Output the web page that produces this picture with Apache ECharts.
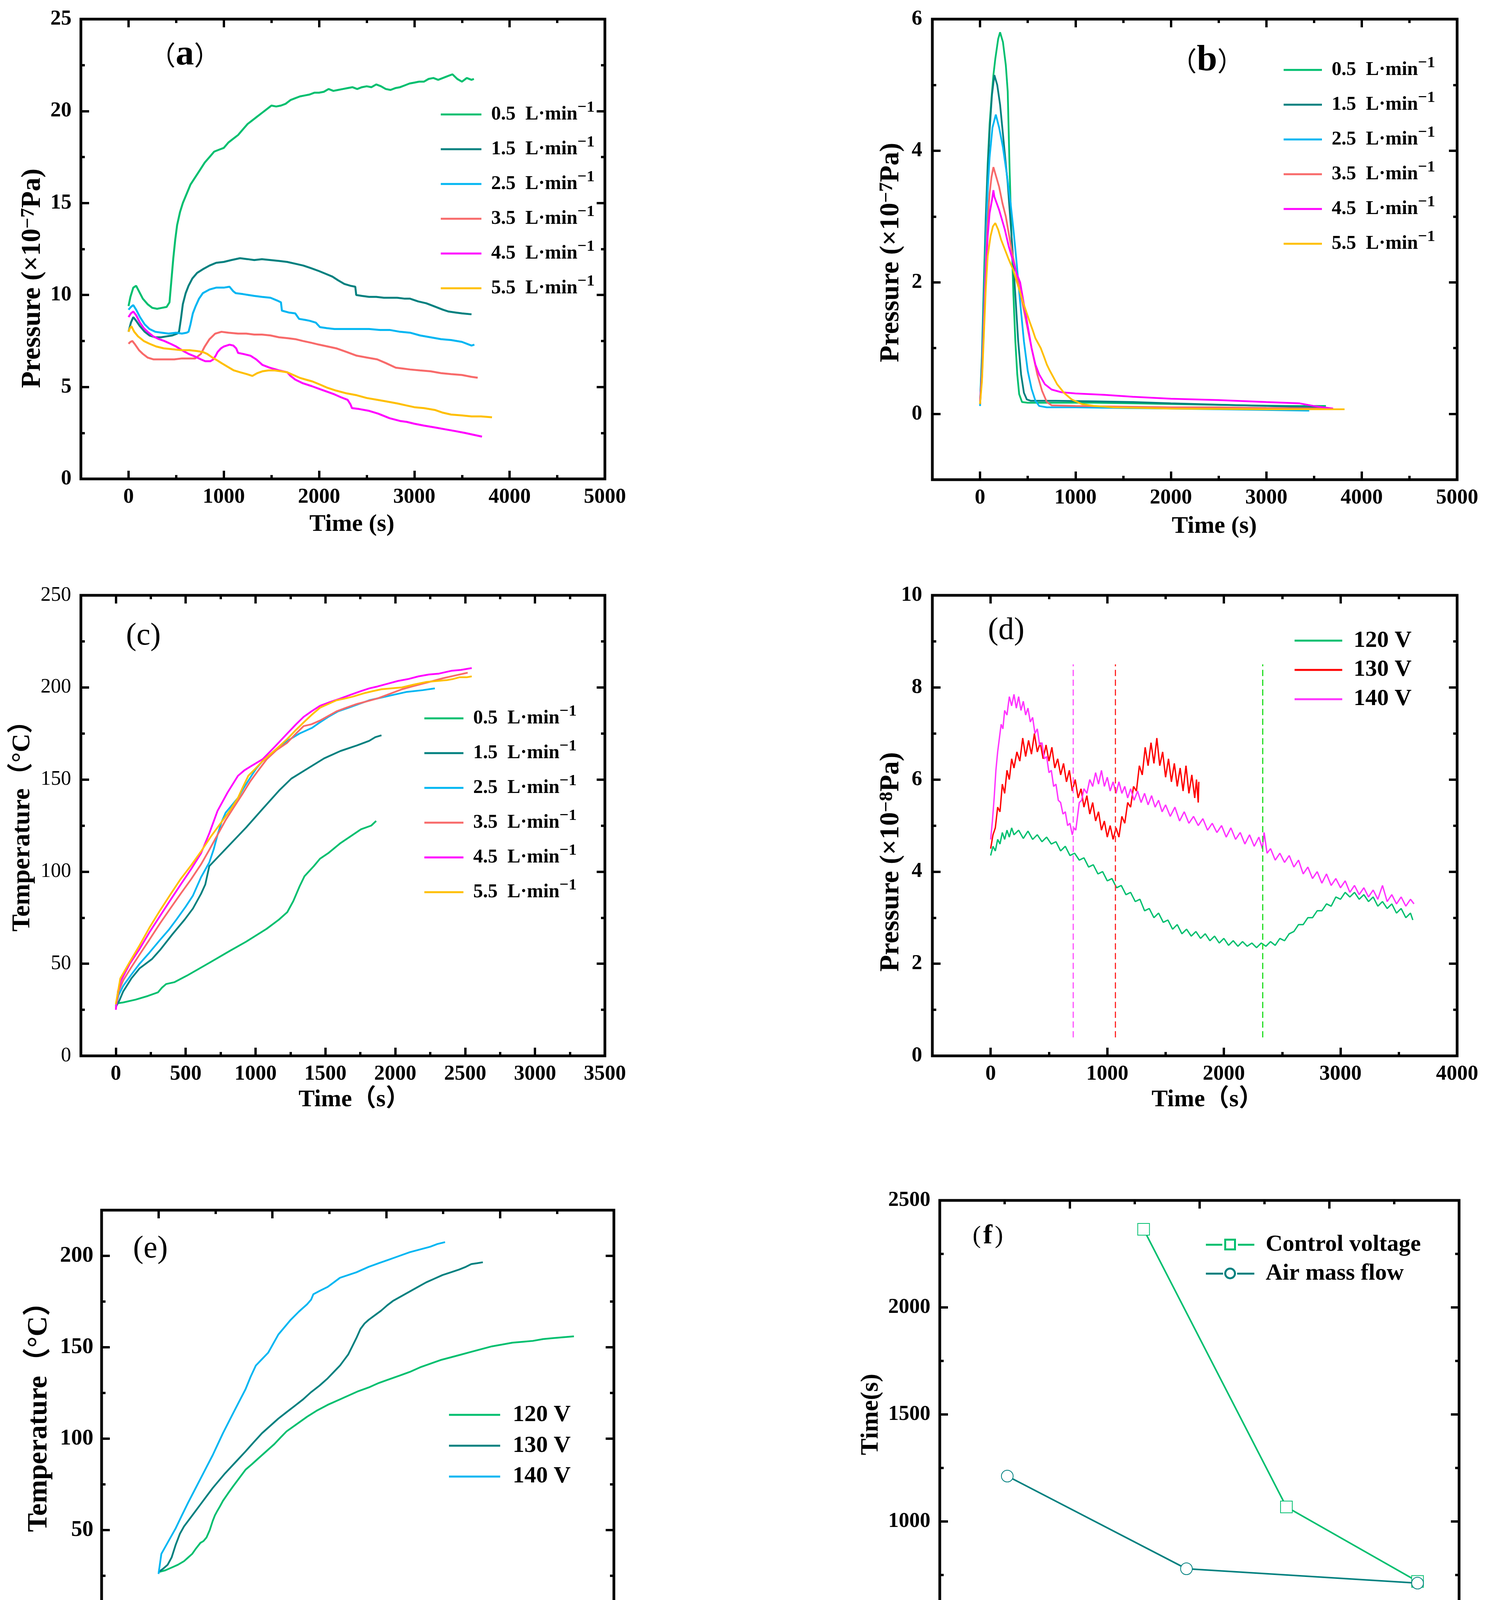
<!DOCTYPE html>
<html><head><meta charset="utf-8">
<script src="https://cdn.jsdelivr.net/npm/echarts@6/dist/echarts.min.js"></script>
<style>html,body{margin:0;padding:0;background:#fff}#c{width:3808px;height:4328px}</style>
</head><body><div id="c"></div>
<script>
// ---------------- DATA ----------------
const flowLabels = ['0.5','1.5','2.5','3.5','4.5','5.5'];
const voltLabels = ['120 V','130 V','140 V'];

// (a) pressure vs time, x1e-7 Pa
const a05 = [[0,9.4],[20,9.9],[50,10.4],[80,10.5],[110,10.2],[150,9.8],[200,9.5],[250,9.3],[300,9.25],[350,9.3],[400,9.35],[430,9.6],[450,10.8],[470,12.0],[490,13.0],[510,13.8],[540,14.5],[570,15.0],[610,15.5],[650,16.0],[700,16.4],[750,16.8],[800,17.2],[850,17.5],[900,17.8],[950,17.9],[1000,18.0],[1050,18.3],[1100,18.5],[1150,18.7],[1200,19.0],[1250,19.3],[1300,19.5],[1350,19.7],[1400,19.9],[1450,20.1],[1500,20.3],[1550,20.25],[1600,20.3],[1650,20.4],[1700,20.6],[1750,20.7],[1800,20.8],[1850,20.85],[1900,20.9],[1950,21.0],[2000,21.0],[2050,21.05],[2100,21.2],[2150,21.1],[2200,21.15],[2250,21.2],[2300,21.25],[2350,21.3],[2400,21.2],[2450,21.3],[2500,21.35],[2550,21.3],[2600,21.45],[2650,21.35],[2700,21.2],[2750,21.15],[2800,21.25],[2850,21.3],[2900,21.4],[2950,21.5],[3000,21.55],[3050,21.6],[3100,21.6],[3150,21.75],[3200,21.8],[3250,21.7],[3300,21.8],[3350,21.9],[3400,22.0],[3450,21.75],[3500,21.6],[3550,21.8],[3600,21.7],[3625,21.75]];
const a15 = [[0,8.0],[25,8.5],[50,8.8],[80,8.6],[120,8.3],[170,8.0],[220,7.8],[280,7.7],[340,7.7],[400,7.75],[460,7.8],[510,7.9],[530,8.0],[550,8.7],[570,9.5],[600,10.1],[630,10.5],[670,10.9],[720,11.2],[780,11.4],[850,11.6],[920,11.75],[1000,11.8],[1080,11.9],[1170,12.0],[1250,11.95],[1320,11.9],[1400,11.95],[1490,11.9],[1580,11.85],[1665,11.8],[1750,11.7],[1835,11.6],[1920,11.45],[2000,11.3],[2070,11.15],[2140,11.0],[2200,10.8],[2265,10.6],[2330,10.5],[2380,10.45],[2390,10.0],[2450,9.95],[2525,9.9],[2600,9.9],[2680,9.85],[2740,9.85],[2820,9.85],[2900,9.8],[2955,9.8],[3040,9.65],[3125,9.55],[3200,9.4],[3300,9.2],[3360,9.1],[3430,9.05],[3500,9.0],[3600,8.95]];
const a25 = [[0,9.2],[25,9.35],[50,9.45],[80,9.2],[120,8.8],[170,8.4],[220,8.15],[280,8.0],[350,7.95],[420,7.9],[500,7.95],[560,7.9],[610,7.95],[630,8.0],[650,8.4],[675,9.0],[705,9.4],[740,9.8],[780,10.1],[850,10.3],[920,10.4],[1000,10.4],[1060,10.45],[1100,10.2],[1125,10.1],[1200,10.05],[1260,10.0],[1320,9.95],[1400,9.9],[1490,9.85],[1560,9.7],[1600,9.6],[1610,9.15],[1680,9.05],[1750,9.0],[1790,8.7],[1850,8.65],[1900,8.6],[1965,8.5],[2010,8.25],[2080,8.2],[2160,8.15],[2240,8.15],[2310,8.15],[2400,8.15],[2525,8.15],[2640,8.1],[2740,8.1],[2850,8.0],[2955,7.95],[3060,7.8],[3170,7.7],[3280,7.6],[3385,7.55],[3500,7.45],[3600,7.25],[3630,7.3]];
const a35 = [[0,7.35],[20,7.45],[40,7.5],[70,7.3],[110,7.0],[150,6.8],[200,6.6],[260,6.5],[330,6.5],[400,6.5],[480,6.5],[560,6.55],[640,6.55],[700,6.55],[760,6.8],[800,7.2],[850,7.6],[910,7.9],[975,8.0],[1050,7.95],[1150,7.9],[1235,7.9],[1320,7.85],[1400,7.85],[1490,7.8],[1580,7.7],[1670,7.65],[1750,7.6],[1830,7.5],[1920,7.4],[2000,7.3],[2090,7.2],[2180,7.1],[2290,6.9],[2395,6.7],[2500,6.6],[2610,6.5],[2700,6.3],[2805,6.05],[2880,6.0],[2955,5.95],[3060,5.9],[3170,5.85],[3280,5.75],[3385,5.7],[3500,5.65],[3600,5.55],[3665,5.5]];
const a45 = [[0,8.8],[25,9.0],[50,9.1],[80,8.9],[120,8.5],[160,8.2],[200,8.0],[260,7.75],[320,7.6],[375,7.5],[440,7.35],[500,7.2],[560,7.0],[630,6.8],[700,6.65],[760,6.5],[805,6.4],[860,6.4],[890,6.5],[915,6.7],[935,6.9],[970,7.1],[1000,7.2],[1060,7.3],[1100,7.25],[1130,7.1],[1150,6.85],[1200,6.8],[1280,6.7],[1340,6.5],[1405,6.2],[1480,6.05],[1580,5.9],[1665,5.8],[1700,5.6],[1750,5.4],[1830,5.2],[1920,5.05],[2000,4.9],[2080,4.75],[2160,4.6],[2225,4.45],[2300,4.3],[2330,4.05],[2345,3.85],[2420,3.8],[2525,3.7],[2620,3.55],[2740,3.3],[2850,3.15],[2920,3.1],[3000,3.0],[3100,2.9],[3215,2.8],[3320,2.7],[3430,2.6],[3530,2.5],[3620,2.4],[3710,2.3]];
const a55 = [[0,8.0],[15,8.2],[30,8.3],[60,8.0],[100,7.75],[160,7.5],[220,7.35],[290,7.2],[370,7.1],[460,7.05],[560,7.0],[640,7.0],[720,6.95],[780,6.9],[825,6.8],[880,6.6],[930,6.45],[975,6.3],[1040,6.1],[1105,5.9],[1170,5.8],[1240,5.7],[1300,5.6],[1350,5.75],[1405,5.85],[1470,5.9],[1535,5.9],[1600,5.85],[1665,5.8],[1730,5.65],[1795,5.5],[1860,5.4],[1930,5.3],[2000,5.15],[2090,4.95],[2180,4.8],[2290,4.65],[2395,4.55],[2500,4.4],[2610,4.3],[2720,4.2],[2825,4.1],[2910,4.0],[3000,3.9],[3100,3.85],[3215,3.75],[3300,3.6],[3385,3.5],[3500,3.45],[3600,3.4],[3700,3.4],[3815,3.35]];

// (b) pressure vs time, x1e-7 Pa
const b05 = [[0,0.15],[20,0.9],[40,2.0],[60,3.0],[80,3.8],[100,4.4],[120,4.8],[140,5.15],[160,5.4],[190,5.7],[210,5.8],[240,5.65],[270,5.3],[290,4.9],[310,3.7],[330,2.7],[350,1.8],[370,1.1],[390,0.6],[410,0.3],[440,0.18],[500,0.17],[800,0.17],[1200,0.17],[1600,0.16],[2000,0.15],[2400,0.14],[2800,0.13],[3200,0.12],[3625,0.12]];
const b15 = [[0,0.15],[20,0.8],[40,1.8],[60,2.9],[80,3.7],[100,4.3],[125,4.85],[150,5.15],[180,5.0],[210,4.7],[250,4.1],[290,3.5],[315,3.0],[340,2.5],[370,1.8],[400,1.1],[430,0.6],[460,0.32],[490,0.22],[530,0.2],[800,0.2],[1200,0.19],[1600,0.18],[2000,0.16],[2500,0.14],[3000,0.12],[3600,0.1]];
const b25 = [[0,0.12],[20,0.7],[40,1.6],[60,2.6],[80,3.4],[100,3.9],[130,4.35],[165,4.55],[200,4.35],[240,4.05],[280,3.65],[320,3.2],[350,2.8],[380,2.35],[420,1.7],[460,1.1],[500,0.65],[540,0.38],[580,0.2],[620,0.12],[700,0.1],[1000,0.1],[1500,0.09],[2000,0.08],[2500,0.07],[3000,0.06],[3450,0.05]];
const b35 = [[0,0.15],[20,0.6],[40,1.4],[60,2.3],[80,2.9],[100,3.35],[120,3.6],[140,3.75],[170,3.6],[200,3.45],[235,3.2],[270,3.0],[300,2.75],[330,2.5],[365,2.25],[400,2.0],[435,1.75],[470,1.5],[505,1.25],[540,1.0],[570,0.8],[600,0.6],[650,0.35],[700,0.18],[750,0.13],[1000,0.12],[1500,0.11],[2000,0.1],[2500,0.1],[3000,0.09],[3700,0.08]];
const b45 = [[0,0.2],[20,0.55],[40,1.3],[60,2.1],[80,2.7],[100,3.05],[125,3.25],[140,3.4],[150,3.3],[175,3.2],[200,3.1],[230,2.95],[260,2.8],[300,2.55],[340,2.35],[380,2.15],[420,2.0],[450,1.75],[480,1.5],[510,1.25],[540,1.0],[580,0.75],[620,0.6],[680,0.45],[750,0.37],[850,0.33],[1000,0.31],[1300,0.29],[1600,0.26],[2000,0.23],[2500,0.21],[3000,0.18],[3350,0.16],[3500,0.12],[3700,0.08]];
const b55 = [[0,0.15],[20,0.5],[40,1.2],[60,1.9],[80,2.4],[110,2.7],[135,2.85],[160,2.9],[190,2.8],[220,2.65],[260,2.5],[300,2.35],[345,2.2],[387,2.0],[420,1.85],[450,1.7],[485,1.55],[520,1.4],[550,1.28],[580,1.15],[610,1.07],[636,1.0],[670,0.87],[700,0.75],[730,0.66],[760,0.58],[808,0.45],[880,0.32],[960,0.22],[1066,0.15],[1200,0.12],[1400,0.1],[2000,0.08],[3000,0.07],[3820,0.07]];

// (c) temperature vs time, degC
const c05 = [[0,28.4],[53,29],[141,30.5],[229,32.5],[302,34.5],[330,37],[360,39],[420,40],[508,43.5],[669,50.5],[816,57],[933,62],[1080,69],[1168,74],[1227,78],[1270,84],[1315,92],[1350,97.5],[1417,103],[1461,107],[1520,110],[1608,115.5],[1696,120],[1755,123],[1828,125],[1863,127.5]];
const c15 = [[0,26.5],[25,30],[53,35],[111,42],[170,47.5],[258,52.5],[317,57.5],[405,66],[493,74],[552,80],[610,88],[640,93],[669,103],[757,110],[845,117],[933,124],[1050,134],[1168,144],[1256,150.5],[1373,156],[1491,161.5],[1608,165.5],[1725,168.5],[1813,171],[1857,173],[1901,174]];
const c25 = [[0,27],[20,33],[53,38],[110,44],[170,50],[240,56],[317,63],[380,68.5],[434,74],[500,81],[552,87],[610,97],[669,105],[700,112],[728,120],[757,127],[786,132],[830,136],[874,140],[920,146],[962,151],[1005,156],[1050,160],[1140,166],[1227,171],[1315,175],[1403,178],[1460,181],[1520,184],[1590,187],[1667,189],[1740,191],[1813,193],[1900,194.5],[1989,196],[2077,197.5],[2195,198.5],[2283,199.5]];
const c35 = [[0,26],[20,35],[53,41],[110,48],[170,55],[240,63],[317,72],[390,80],[464,88],[540,96],[610,104],[670,112],[728,120],[786,128],[845,135],[905,142],[962,149],[1020,155],[1080,161],[1150,166],[1227,170],[1290,175],[1344,179],[1400,180],[1461,182],[1520,184.5],[1579,187],[1650,189],[1725,191],[1800,192.5],[1872,194],[1960,196.5],[2048,199],[2120,200.5],[2195,202],[2270,203.5],[2342,205],[2430,206.5],[2518,208]];
const c45 = [[0,25],[15,35],[38,41],[100,50],[170,58],[240,67],[317,76],[390,84.5],[464,93],[540,101.5],[610,110],[670,121],[728,133],[800,143],[874,152],[920,155],[962,157],[1050,161],[1140,168],[1227,175],[1290,180],[1344,184],[1400,187],[1461,190],[1530,192],[1608,194],[1680,196],[1755,198],[1815,199.5],[1872,200.5],[1945,202],[2019,203.5],[2090,204.5],[2166,206],[2240,207],[2313,207.5],[2400,209],[2470,209.5],[2547,210.5]];
const c55 = [[0,28],[32,42],[100,51],[170,60],[240,69.5],[317,79],[390,87.5],[464,96],[540,103.5],[610,111],[680,119],[757,127],[815,133],[874,140],[910,146],[948,152],[1000,156],[1050,160],[1140,166],[1227,172],[1290,177],[1344,181],[1400,185],[1461,189],[1520,191],[1579,193],[1640,194],[1696,195],[1740,196],[1784,197],[1840,198],[1901,199],[1970,199.5],[2048,200],[2130,201.5],[2224,203],[2300,203.5],[2371,204],[2410,204.5],[2459,205.5],[2510,205.5],[2547,206]];

// (d) pressure vs time, x1e-8 Pa
const d120 = [[0,4.35],[20,4.55],[40,4.45],[60,4.7],[80,4.6],[100,4.85],[120,4.7],[140,4.9],[160,4.75],[180,4.95],[200,4.8],[240,4.9],[280,4.72],[320,4.88],[360,4.7],[400,4.8],[440,4.65],[480,4.75],[520,4.6],[560,4.65],[600,4.45],[640,4.55],[680,4.35],[720,4.4],[760,4.25],[800,4.3],[840,4.1],[880,4.15],[920,3.95],[960,4.0],[1000,3.8],[1040,3.85],[1080,3.65],[1120,3.7],[1160,3.5],[1200,3.55],[1240,3.35],[1280,3.4],[1320,3.15],[1360,3.2],[1400,3.0],[1440,3.1],[1480,2.9],[1520,2.95],[1560,2.75],[1600,2.85],[1640,2.65],[1680,2.75],[1720,2.6],[1760,2.7],[1800,2.55],[1840,2.65],[1880,2.5],[1920,2.6],[1960,2.45],[2000,2.55],[2040,2.4],[2080,2.5],[2120,2.38],[2160,2.48],[2200,2.38],[2240,2.45],[2280,2.35],[2320,2.45],[2360,2.38],[2400,2.48],[2440,2.4],[2480,2.55],[2520,2.5],[2560,2.65],[2600,2.7],[2640,2.85],[2680,2.85],[2720,3.0],[2760,3.0],[2800,3.15],[2840,3.15],[2880,3.3],[2920,3.25],[2960,3.45],[3000,3.4],[3040,3.55],[3080,3.45],[3120,3.55],[3160,3.4],[3200,3.5],[3240,3.35],[3280,3.45],[3320,3.25],[3360,3.35],[3400,3.2],[3440,3.3],[3480,3.1],[3520,3.2],[3560,3.0],[3600,3.1],[3620,2.95]];
const d130 = [[0,4.5],[20,4.8],[40,4.95],[60,5.4],[80,5.3],[100,5.9],[120,5.7],[140,6.2],[160,6.0],[180,6.45],[200,6.25],[225,6.6],[250,6.4],[275,6.9],[300,6.5],[325,6.85],[350,6.55],[375,7.0],[400,6.6],[425,6.8],[450,6.45],[475,6.75],[500,6.4],[525,6.7],[550,6.25],[575,6.45],[600,6.1],[625,6.35],[650,5.95],[675,6.2],[700,5.75],[725,6.0],[750,5.6],[775,5.8],[800,5.4],[825,5.65],[850,5.25],[875,5.5],[900,5.1],[925,5.3],[950,4.9],[975,5.1],[1000,4.75],[1025,5.0],[1050,4.7],[1075,4.95],[1100,4.75],[1125,5.2],[1150,5.05],[1175,5.5],[1200,5.4],[1225,5.85],[1250,5.75],[1275,6.3],[1300,6.1],[1325,6.7],[1350,6.3],[1375,6.8],[1400,6.35],[1425,6.9],[1450,6.3],[1475,6.6],[1500,6.05],[1525,6.45],[1550,5.95],[1575,6.35],[1600,5.85],[1625,6.25],[1650,5.75],[1675,6.3],[1700,5.7],[1725,6.1],[1750,5.6],[1765,6.0],[1780,5.5],[1785,5.95]];
const d140 = [[0,4.7],[15,5.1],[30,5.6],[45,6.2],[60,6.6],[75,6.9],[90,7.2],[105,7.1],[120,7.5],[140,7.4],[160,7.8],[180,7.6],[200,7.85],[220,7.55],[240,7.8],[260,7.5],[280,7.7],[300,7.4],[320,7.55],[340,7.25],[360,7.35],[380,7.0],[400,7.1],[420,6.75],[440,6.8],[460,6.45],[480,6.5],[500,6.15],[520,6.2],[540,5.85],[560,5.9],[580,5.55],[600,5.5],[620,5.25],[640,5.3],[660,5.0],[680,5.05],[700,4.8],[715,4.95],[730,4.9],[745,5.2],[760,5.5],[780,5.55],[800,5.8],[825,5.7],[850,6.0],[875,5.85],[900,6.15],[925,5.9],[950,6.2],[975,5.85],[1000,6.05],[1025,5.75],[1050,5.95],[1075,5.7],[1100,5.95],[1125,5.7],[1150,5.85],[1175,5.6],[1200,5.8],[1230,5.55],[1260,5.75],[1290,5.5],[1320,5.7],[1350,5.45],[1380,5.65],[1410,5.4],[1440,5.55],[1470,5.3],[1500,5.45],[1540,5.2],[1580,5.4],[1620,5.1],[1660,5.3],[1700,5.05],[1740,5.2],[1780,5.0],[1820,5.15],[1860,4.9],[1900,5.05],[1940,4.85],[1980,5.0],[2020,4.75],[2060,4.95],[2100,4.7],[2140,4.85],[2180,4.6],[2220,4.8],[2260,4.55],[2300,4.75],[2330,4.5],[2345,4.85],[2370,4.4],[2400,4.5],[2440,4.25],[2480,4.4],[2520,4.2],[2560,4.35],[2600,4.1],[2640,4.25],[2680,3.95],[2720,4.1],[2760,3.85],[2800,4.0],[2840,3.75],[2880,3.95],[2920,3.7],[2960,3.85],[3000,3.65],[3040,3.8],[3080,3.55],[3120,3.7],[3160,3.5],[3200,3.65],[3240,3.45],[3280,3.6],[3320,3.4],[3360,3.7],[3400,3.35],[3440,3.5],[3480,3.3],[3520,3.45],[3560,3.25],[3600,3.4],[3630,3.3]];
// (d) dashed marker lines: time, bottom value, top value
const dMarkTimes = [708, 1070, 2331];
const dMarkRange = [0.4, 8.5];

// (e) temperature vs time, degC
const e120 = [[0,27],[60,28],[115,29.5],[170,31],[224,33],[260,35],[296,37],[330,40],[368,43],[395,44],[422,46],[450,50],[476,55],[495,58],[512,60],[540,63],[566,66],[610,70],[656,74],[710,78.5],[764,83],[820,86],[873,89],[945,93],[1017,97],[1070,100.5],[1125,104],[1215,108],[1305,112],[1395,115.5],[1486,118.5],[1576,121],[1666,123.5],[1756,126],[1846,128],[1936,130.5],[2027,132.5],[2117,134.5],[2207,136.5],[2297,139],[2387,141],[2477,143],[2568,144.5],[2658,146],[2748,147.5],[2838,149],[2928,150.5],[3019,151.5],[3109,152.5],[3199,153],[3289,153.5],[3379,154.5],[3469,155],[3559,155.5],[3649,156]];
const e130 = [[0,27],[43,29],[80,31],[115,35],[151,42],[188,48],[224,52],[260,55],[314,59.5],[368,64],[422,68.5],[476,73],[530,77],[584,81],[674,87],[764,93],[836,98],[909,103],[981,107],[1053,111],[1125,114.5],[1198,118],[1270,121.5],[1341,125.5],[1414,129],[1486,133],[1540,136.5],[1594,140],[1630,143],[1666,146],[1702,150.5],[1738,155],[1774,160],[1810,163],[1846,165],[1900,167.5],[1955,170],[2010,173],[2063,175.5],[2135,178],[2207,180.5],[2279,183],[2351,185.5],[2423,187.5],[2495,189.5],[2568,191],[2640,192.5],[2700,194],[2748,195.5],[2800,196],[2849,196.5]];
const e140 = [[0,26],[25,37],[79,43],[151,51],[205,58],[260,65],[314,71.5],[368,78],[422,84.5],[476,91],[521,97],[566,103],[611,108.5],[656,114],[710,120.5],[764,127],[810,134],[855,140],[909,143.5],[963,147],[1008,152],[1053,157],[1107,161],[1161,165],[1233,169.5],[1305,173.5],[1340,176],[1360,179],[1420,181],[1486,183],[1540,185.5],[1594,188],[1666,189.5],[1738,191],[1792,192.5],[1846,194],[1936,196],[2027,198],[2117,200],[2207,202],[2297,203.5],[2387,205],[2450,206.5],[2517,207.5]];

// (f) time vs SIE
const fSIEvolt = [657, 767, 868];
const fTimeVolt = [2365, 1068, 720];
const fSIEflow = [552, 690, 868];
const fTimeFlow = [1212, 779, 712];

// tick values
const ticksA_x = [0,1000,2000,3000,4000,5000], minorA_x = [500,1500,2500,3500,4500];
const ticksA_y = [0,5,10,15,20,25], minorA_y = [2.5,7.5,12.5,17.5,22.5];
const ticksB_y = [0,2,4,6], minorB_y = [1,3,5];
const ticksC_x = [0,500,1000,1500,2000,2500,3000,3500], minorC_x = [250,750,1250,1750,2250,2750,3250];
const ticksC_y = [0,50,100,150,200,250], minorC_y = [25,75,125,175,225];
const ticksD_x = [0,1000,2000,3000,4000], minorD_x = [500,1500,2500,3500];
const ticksD_y = [0,2,4,6,8,10], minorD_y = [1,3,5,7,9];
const ticksE_y = [0,50,100,150,200], minorE_y = [25,75,125,175];
const ticksF_x = [500,600,700,800,900], minorF_x = [550,650,750,850];
const ticksF_y = [500,1000,1500,2000,2500], minorF_y = [750,1250,1750,2250];

// ---------------- STYLE ----------------
const SERIF = '"Liberation Serif", "Times New Roman", "Noto Sans CJK SC", serif';
const CJK = '"Noto Sans CJK SC", "Liberation Serif", serif';
const C = {g:'#00BF6F', t:'#00807F', b:'#00B6F2', s:'#F86A6A', m:'#FF00FF', y:'#FFBF00',
           red:'#FF0000', m2:'#FF33FF'};
const flowColors = [C.g, C.t, C.b, C.s, C.m, C.y];

const grids = [
  {left:207, top:49, width:1341, height:1177},
  {left:2386, top:49, width:1343, height:1179},
  {left:207, top:1524, width:1341, height:1179},
  {left:2386, top:1524, width:1343, height:1179},
  {left:260, top:3098, width:1311, height:1053},
  {left:2405, top:3073, width:1329, height:1096}
].map(g => Object.assign(g, {show:true, borderColor:'#000', borderWidth:7, backgroundColor:'transparent', containLabel:false, outerBoundsMode:'none'}));

function supName(main, sup, tail, size) {
  return {
    text: '{n|' + main + '}{s|' + sup + '}{n|' + tail + '}',
    rich: {
      n: {fontFamily:SERIF, fontWeight:'bold', fontSize:size, lineHeight:size, color:'#000'},
      s: {fontFamily:SERIF, fontWeight:'bold', fontSize:Math.round(size*0.7), lineHeight:30, verticalAlign:'top', color:'#000'}
    }
  };
}

function mkAxes(gi, dim, c) {
  const isX = dim === 'x';
  const p1 = isX ? 'bottom' : 'left', p2 = isX ? 'top' : 'right';
  const common = {type:'value', gridIndex:gi, min:c.min, max:c.max, scale:false,
    axisLine:{show:false, onZero:false}, splitLine:{show:false}, splitArea:{show:false},
    minorTick:{show:false}, nameMoveOverlap:false, silent:true};
  const tick = (vals, len) => ({show:true, inside:true, length:len, customValues:vals, lineStyle:{color:'#000', width:6}});
  const nameStyle = Object.assign({fontFamily:SERIF, fontWeight:'bold', fontSize:c.nameSize, lineHeight:c.nameSize, color:'#000',
      padding: c.namePad || [0,0,0,0]}, c.rich ? {rich:c.rich} : {});
  const main = Object.assign({}, common, {
    position:p1, axisTick:tick(c.major, 21),
    axisLabel:{show:true, customValues:c.major, margin:c.margin, color:'#000', fontFamily:SERIF,
      fontSize:c.size, fontWeight:c.weight || 'bold', formatter:(v) => String(v)},
    name:c.name, nameLocation:'middle', nameGap:c.nameGap, nameTextStyle:nameStyle
  });
  return [main,
    Object.assign({}, common, {position:p1, axisTick:tick(c.minor, 10), axisLabel:{show:false}}),
    Object.assign({}, common, {position:p2, axisTick:tick(c.major, 21), axisLabel:{show:false}}),
    Object.assign({}, common, {position:p2, axisTick:tick(c.minor, 10), axisLabel:{show:false}})];
}

const pa = supName('Pressure (×10', '−7', 'Pa)', 70);
const pb = supName('Pressure (×10', '−7', 'Pa)', 70);
const pd = supName('Pressure (×10', '−8', 'Pa)', 70);

const xAxes = [].concat(
  mkAxes(0,'x',{min:-500,max:5000,major:ticksA_x,minor:minorA_x,size:54,margin:20,name:'Time (s)',nameGap:86,nameSize:62,namePad:[0,0,0,46]}),
  mkAxes(1,'x',{min:-500,max:5000,major:ticksA_x,minor:minorA_x,size:54,margin:20,name:'Time (s)',nameGap:89,nameSize:62,namePad:[0,0,0,100]}),
  mkAxes(2,'x',{min:-250,max:3500,major:ticksC_x,minor:minorC_x,size:54,margin:20,name:'Time（s）',nameGap:82,nameSize:62,namePad:[0,0,0,58]}),
  mkAxes(3,'x',{min:-500,max:4000,major:ticksD_x,minor:minorD_x,size:54,margin:20,name:'Time（s）',nameGap:82,nameSize:62,namePad:[0,0,0,64]}),
  mkAxes(4,'x',{min:-500,max:4000,major:ticksD_x,minor:minorD_x,size:57,margin:20,name:'Time（s）',nameGap:99,nameSize:62,namePad:[0,0,0,78]}),
  mkAxes(5,'x',{min:500,max:900,major:ticksF_x,minor:minorF_x,size:55,margin:20,name:'SIE (J/L)',nameGap:86,nameSize:62,namePad:[0,0,0,86]})
);
const yAxes = [].concat(
  mkAxes(0,'y',{min:0,max:25,major:ticksA_y,minor:minorA_y,size:54,margin:24,name:pa.text,rich:pa.rich,nameGap:88,nameSize:70,namePad:[0,150,0,0]}),
  mkAxes(1,'y',{min:-1,max:6,major:ticksB_y,minor:minorB_y,size:54,margin:26,name:pb.text,rich:pb.rich,nameGap:70,nameSize:70,namePad:[0,16,0,0]}),
  mkAxes(2,'y',{min:0,max:250,major:ticksC_y,minor:minorC_y,size:52,weight:'normal',margin:25,name:'Temperature（°C）',nameGap:116,nameSize:66,namePad:[0,0,0,30]}),
  mkAxes(3,'y',{min:0,max:10,major:ticksD_y,minor:minorD_y,size:54,margin:26,name:pd.text,rich:pd.rich,nameGap:70,nameSize:70,namePad:[0,186,0,0]}),
  mkAxes(4,'y',{min:0,max:225,major:ticksE_y,minor:minorE_y,size:57,margin:21,name:'Temperature（°C）',nameGap:124,nameSize:72,namePad:[0,0,0,30]}),
  mkAxes(5,'y',{min:500,max:2500,major:ticksF_y,minor:minorF_y,size:54,margin:24,name:'Time(s)',nameGap:144,nameSize:64})
);

function line(gi, name, data, color, width) {
  return {type:'line', name, xAxisIndex:gi*4, yAxisIndex:gi*4, data, color,
    symbol:'none', lineStyle:{color, width}, itemStyle:{color}, animation:false, silent:true};
}

const series = [];
[a05,a15,a25,a35,a45,a55].forEach((d,i) => series.push(line(0, 'a:'+flowLabels[i], d, flowColors[i], 5)));
[b05,b15,b25,b35,b45,b55].forEach((d,i) => series.push(line(1, 'b:'+flowLabels[i], d, flowColors[i], 4.5)));
[c05,c15,c25,c35,c45,c55].forEach((d,i) => series.push(line(2, 'c:'+flowLabels[i], d, flowColors[i], 4.5)));
const dColors = [C.g, C.red, C.m2];
const dMarkColors = ['#22DD22', '#FF2A2A', '#FF55FF'];
[d120,d130,d140].forEach((d,i) => series.push(line(3, 'd:'+voltLabels[i], d, dColors[i], 3.5)));
// dashed markers: 140 V (magenta), 130 V (red), 120 V (green)
[[2,0],[1,1],[0,2]].forEach(([si, mi]) => {
  series[18+si].markLine = {silent:true, symbol:['none','none'], label:{show:false}, animation:false,
    lineStyle:{type:[16,9], width:3, color:dMarkColors[si]},
    data:[[{coord:[dMarkTimes[mi], dMarkRange[0]]},{coord:[dMarkTimes[mi], dMarkRange[1]]}]]};
});
const eColors = [C.g, C.t, C.b];
[e120,e130,e140].forEach((d,i) => series.push(line(4, 'e:'+voltLabels[i], d, eColors[i], 4.5)));
series.push({type:'line', name:'Control voltage', xAxisIndex:20, yAxisIndex:20,
  data:fSIEvolt.map((x,i)=>[x,fTimeVolt[i]]), color:C.g, symbol:'emptyRect', symbolSize:30, showSymbol:true,
  lineStyle:{color:C.g, width:4}, itemStyle:{color:C.g, borderWidth:5}, animation:false, silent:true, z:3});
series.push({type:'line', name:'Air mass flow', xAxisIndex:20, yAxisIndex:20,
  data:fSIEflow.map((x,i)=>[x,fTimeFlow[i]]), color:C.t, symbol:'emptyCircle', symbolSize:30, showSymbol:true,
  lineStyle:{color:C.t, width:4}, itemStyle:{color:C.t, borderWidth:5}, animation:false, silent:true, z:4});

const flowRich = {
  n:{fontFamily:SERIF, fontWeight:'bold', fontSize:50, lineHeight:76, color:'#000', padding:[0,0,0,20]},
  s:{fontFamily:SERIF, fontWeight:'bold', fontSize:41, lineHeight:36, verticalAlign:'top', color:'#000'}
};
function flowLegend(prefix, left, center, w) {
  return {orient:'vertical', left, top:center-33, padding:0, itemWidth:w, itemHeight:5, itemGap:26, selectedMode:false,
    icon:'rect', itemStyle:{borderWidth:0},
    data: flowLabels.map(l => prefix + ':' + l),
    formatter: (n) => '{n|' + n.split(':')[1] + '  L·min}{s|−1}',
    textStyle:{rich:flowRich}};
}
function voltLegend(names, left, center, w, gap, pad) {
  return {orient:'vertical', left, top:center-30, padding:0, itemWidth:w, itemHeight:5, itemGap:gap, selectedMode:false,
    icon:'rect', itemStyle:{borderWidth:0},
    data:names, formatter:(n) => '{n|' + n.split(':')[1] + '}',
    textStyle:{rich:{n:{fontFamily:SERIF, fontWeight:'bold', fontSize:60, lineHeight:60, color:'#000', padding:[0,0,0,pad]}}}};
}
const iconSquare = 'path://M0,13L42,13L42,18L0,18Z M47,0L77,0L77,30L47,30Z M52,5L52,25L72,25L72,5Z M82,13L124,13L124,18L82,18Z';
const iconCircle = 'path://M0,13L44,13L44,18L0,18Z M47,15A15,15 0 1,1 77,15A15,15 0 1,1 47,15Z M52,15A10,10 0 1,0 72,15A10,10 0 1,0 52,15Z M80,13L124,13L124,18L80,18Z';
const legends = [
  flowLegend('a', 1128, 288, 104),
  flowLegend('b', 3285, 174, 98),
  flowLegend('c', 1086, 1834, 100),
  voltLegend(voltLabels.map(v=>'d:'+v), 3313, 1640, 122, 15, 24),
  voltLegend(voltLabels.map(v=>'e:'+v), 1149, 3622, 131, 19, 27),
  {orient:'vertical', left:3086, top:3186-30, padding:0, itemWidth:124, itemHeight:30, itemGap:14, selectedMode:false,
   itemStyle:{borderWidth:0},
   data:[{name:'Control voltage', icon:iconSquare}, {name:'Air mass flow', icon:iconCircle}],
   formatter:(n) => '{n|' + n + '}',
   textStyle:{rich:{n:{fontFamily:SERIF, fontWeight:'bold', fontSize:60, lineHeight:60, color:'#000', padding:[0,0,0,24]}}}}
];

function panelLabel(x, y, letter, mode) {
  let text, rich;
  if (mode === 'cjk') {
    text = '{p|（}{b|' + letter + '}{p|）}';
    rich = {p:{fontFamily:CJK, fontSize:68, fill:'#000'}, b:{fontFamily:SERIF, fontWeight:'bold', fontSize:94, fill:'#000'}};
  } else if (mode === 'boldf') {
    text = '{p|(}{b|' + letter + '}{p|)}';
    rich = {p:{fontFamily:SERIF, fontSize:64, fill:'#000', padding:[0,6,0,6]}, b:{fontFamily:SERIF, fontWeight:'bold', fontSize:70, fill:'#000'}};
  } else {
    text = '{p|(' + letter + ')}';
    rich = {p:{fontFamily:SERIF, fontSize:80, fill:'#000'}};
  }
  return {type:'text', x, y, z:10, silent:true, style:{text, rich, align:'center', verticalAlign:'middle', fill:'#000'}};
}

const option = {
  animation:false,
  backgroundColor:'#ffffff',
  textStyle:{fontFamily:SERIF},
  grid:grids, xAxis:xAxes, yAxis:yAxes, series, legend:legends,
  graphic:[
    panelLabel(473, 141, 'a', 'cjk'),
    panelLabel(3089, 156, 'b', 'cjk'),
    panelLabel(367, 1629, 'c', 'plain'),
    panelLabel(2575, 1615, 'd', 'plain'),
    panelLabel(385, 3198, 'e', 'plain'),
    panelLabel(2528, 3165, 'f', 'boldf')
  ]
};
const chart = echarts.init(document.getElementById('c'), null, {renderer:'canvas', width:3808, height:4328});
chart.setOption(option);
</script></body></html>
